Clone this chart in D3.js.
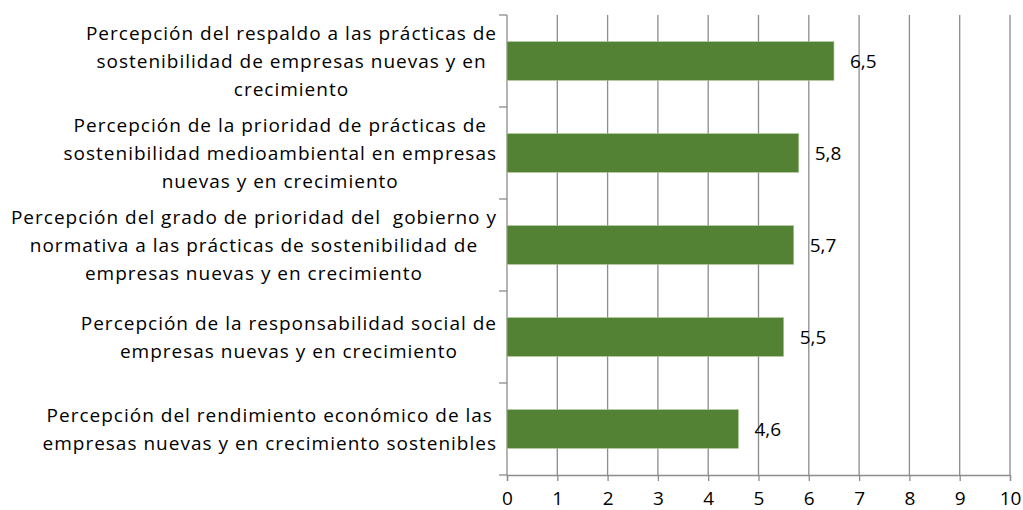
<!DOCTYPE html>
<html>
<head>
<meta charset="utf-8">
<script src="https://cdn.jsdelivr.net/npm/d3@7"></script>
<style>
  body { margin: 0; background: #fff; }
  svg { display: block; font-family: "Open Sans", "Noto Sans", sans-serif; }
</style>
</head>
<body>
<svg></svg>
<script>
// categories, top to bottom, already wrapped like the original
const categories = [
  ['Percepción del respaldo a las prácticas de', 'sostenibilidad de empresas nuevas y en', 'crecimiento'],
  ['Percepción de la prioridad de prácticas de', 'sostenibilidad medioambiental en empresas', 'nuevas y en crecimiento'],
  ['Percepción del grado de prioridad del  gobierno y', 'normativa a las prácticas de sostenibilidad de', 'empresas nuevas y en crecimiento'],
  ['Percepción de la responsabilidad social de', 'empresas nuevas y en crecimiento'],
  ['Percepción del rendimiento económico de las', 'empresas nuevas y en crecimiento sostenibles']
]
const values = [6.5, 5.8, 5.7, 5.5, 4.6]
const valueLabels = ['6,5', '5,8', '5,7', '5,5', '4,6']
const xTicks = [0, 1, 2, 3, 4, 5, 6, 7, 8, 9, 10]

const svgWidth = 1023
const svgHeight = 510
const plotLeft = 507, plotRight = 1010, plotTop = 15, plotBottom = 475
const gridColor = '#8c8c8c'
const labelSize = 19
const lineGap = 28

const svg = d3.select('svg')
  .attr('width', svgWidth)
  .attr('height', svgHeight)

const xScale = d3.scaleLinear().domain([0, 10]).range([plotLeft, plotRight])
const yScale = d3.scaleBand().domain(d3.range(categories.length)).range([plotTop, plotBottom]).paddingInner(0.58).paddingOuter(0.29)
const bandStep = (plotBottom - plotTop) / categories.length

// vertical gridlines
svg.append('g').selectAll('line')
  .data(xTicks.slice(1))
  .enter().append('line')
  .attr('x1', d => xScale(d)).attr('x2', d => xScale(d))
  .attr('y1', plotTop).attr('y2', plotBottom)
  .attr('stroke', gridColor).attr('stroke-width', 1.3)

// x axis
const xAxis = d3.axisBottom(xScale).tickValues(xTicks).tickSize(6).tickPadding(11).tickFormat(d3.format('d'))
const gx = svg.append('g').attr('transform', 'translate(0,' + plotBottom + ')').call(xAxis)
gx.select('.domain').attr('stroke', gridColor).attr('stroke-width', 1.3)
gx.selectAll('.tick line').attr('stroke', gridColor).attr('stroke-width', 1.3)
gx.selectAll('.tick text').attr('font-size', 19).attr('fill', '#000').attr('font-family', '"Open Sans", sans-serif')

// y axis line with ticks at band boundaries
svg.append('line')
  .attr('x1', plotLeft).attr('x2', plotLeft).attr('y1', plotTop).attr('y2', plotBottom)
  .attr('stroke', gridColor).attr('stroke-width', 1.3)
svg.append('g').selectAll('line')
  .data(d3.range(categories.length + 1))
  .enter().append('line')
  .attr('x1', plotLeft - 8).attr('x2', plotLeft)
  .attr('y1', d => plotTop + d * bandStep).attr('y2', d => plotTop + d * bandStep)
  .attr('stroke', gridColor).attr('stroke-width', 1.3)

// bars
svg.append('g').selectAll('rect')
  .data(values)
  .enter().append('rect')
  .attr('x', xScale(0))
  .attr('y', (d, i) => yScale(i))
  .attr('width', d => xScale(d) - xScale(0))
  .attr('height', yScale.bandwidth())
  .attr('fill', '#548235')
  .attr('stroke', '#a9c28f').attr('stroke-width', 0.6)

// value labels
svg.append('g').selectAll('text')
  .data(values)
  .enter().append('text')
  .attr('x', d => xScale(d) + 16)
  .attr('y', (d, i) => yScale(i) + yScale.bandwidth() / 2)
  .attr('dy', '0.35em')
  .attr('font-size', 19)
  .attr('fill', '#000')
  .text((d, i) => valueLabels[i])

// category labels, each block right aligned, lines centred inside it
const labelRight = 497
categories.forEach(function(lines, i) {
  const cy = yScale(i) + yScale.bandwidth() / 2
  const g = svg.append('g')
  const texts = g.selectAll('text')
    .data(lines)
    .enter().append('text')
    .attr('font-size', labelSize)
    .attr('letter-spacing', 1)
    .attr('fill', '#000')
    .attr('text-anchor', 'middle')
    .attr('y', (d, j) => cy + (j - (lines.length - 1) / 2) * lineGap)
    .attr('dy', '0.35em')
    .style('white-space', 'pre')
    .text(d => d)
  let maxW = 0
  texts.each(function() { maxW = Math.max(maxW, this.getComputedTextLength()) })
  texts.attr('x', labelRight - maxW / 2)
})
</script>
</body>
</html>
